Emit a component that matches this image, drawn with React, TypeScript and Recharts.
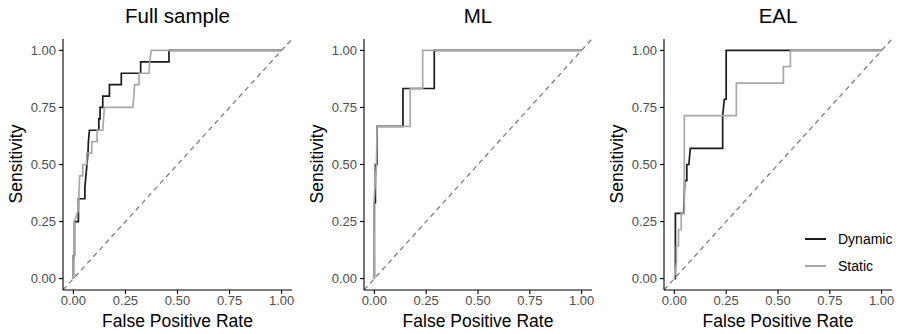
import * as React from "react"
import { LineChart, Line, XAxis, YAxis } from "recharts"

// ── Data: ROC vertices as [false positive rate, sensitivity] ──────────
const fullDynamic: [number, number][] = [
  [0, 0], [0, 0.1], [0.005, 0.1], [0.005, 0.25], [0.024, 0.25], [0.024, 0.35],
  [0.055, 0.35], [0.055, 0.4], [0.06, 0.45], [0.065, 0.5], [0.07, 0.55],
  [0.072, 0.6], [0.077, 0.65], [0.122, 0.65], [0.122, 0.7], [0.128, 0.7],
  [0.128, 0.75], [0.141, 0.75], [0.141, 0.8], [0.173, 0.8], [0.173, 0.85],
  [0.23, 0.85], [0.23, 0.9], [0.323, 0.9], [0.323, 0.95], [0.459, 0.95],
  [0.459, 1], [1, 1],
]
const fullStatic: [number, number][] = [
  [0, 0], [0.003, 0.1], [0.005, 0.25], [0.024, 0.3], [0.03, 0.45], [0.045, 0.45],
  [0.045, 0.5], [0.064, 0.5], [0.064, 0.55], [0.088, 0.55], [0.088, 0.6],
  [0.114, 0.6], [0.114, 0.65], [0.141, 0.65], [0.149, 0.75], [0.286, 0.75],
  [0.29, 0.8], [0.294, 0.85], [0.315, 0.85], [0.315, 0.9], [0.363, 0.9],
  [0.366, 0.95], [0.374, 1], [1, 1],
]
const mlDynamic: [number, number][] = [
  [0, 0], [0, 0.333], [0.005, 0.333], [0.005, 0.5], [0.013, 0.5], [0.013, 0.667],
  [0.138, 0.667], [0.138, 0.833], [0.289, 0.833], [0.289, 1], [1, 1],
]
const mlStatic: [number, number][] = [
  [0, 0], [-0.002, 0.333], [0.01, 0.5], [0.013, 0.667], [0.173, 0.667],
  [0.173, 0.833], [0.233, 0.833], [0.233, 1], [1, 1],
]
const ealDynamic: [number, number][] = [
  [0, 0], [0.005, 0], [0.005, 0.286], [0.045, 0.286], [0.05, 0.429],
  [0.06, 0.429], [0.06, 0.5], [0.07, 0.5], [0.077, 0.571], [0.233, 0.571],
  [0.233, 0.714], [0.241, 0.786], [0.25, 0.786], [0.25, 1], [1, 1],
]
const ealStatic: [number, number][] = [
  [0, 0], [0.01, 0.071], [0.01, 0.143], [0.02, 0.143], [0.02, 0.214],
  [0.033, 0.214], [0.033, 0.286], [0.048, 0.286], [0.048, 0.714],
  [0.299, 0.714], [0.299, 0.857], [0.526, 0.857], [0.526, 0.929],
  [0.56, 0.929], [0.56, 1], [1, 1],
]
const diagonal: [number, number][] = [[-0.05, -0.05], [1.05, 1.05]]

const panelTitles = ["Full sample", "ML", "EAL"]
const legendNames = ["Dynamic", "Static"]
const ticks = [0, 0.25, 0.5, 0.75, 1]

const FONT = "'Liberation Sans', Arial, Helvetica, sans-serif"
const DYN = "#1a1a1a"
const STAT = "#a8a8a8"

const toPts = (arr: [number, number][]) => arr.map(([x, y]) => ({ x, y }))

// ── Legend (overlay, so it doesn't steal plot space) ──────────────────
function RocLegend({ left, top }: { left: number; top: number }) {
  const colors = [DYN, STAT]
  return (
    <div style={{ position: "absolute", left, top, fontFamily: FONT, fontSize: 14, color: "#000" }}>
      {legendNames.map((name, i) => (
        <div key={name} style={{ display: "flex", alignItems: "center", height: 27 }}>
          <div style={{ width: 21, height: 2, background: colors[i], marginRight: 12 }} />
          <span>{name}</span>
        </div>
      ))}
    </div>
  )
}

// ── Panel ─────────────────────────────────────────────────────────────
function RocPanel({
  title, dyn, stat, left, width, showLegend,
}: {
  title: string
  dyn: [number, number][]
  stat: [number, number][]
  left: number
  width: number
  showLegend?: boolean
}) {
  const plotLeft = 63
  const plotRight = width - 9
  const center = (plotLeft + plotRight) / 2
  return (
    <div style={{ position: "absolute", left, top: 0, width, height: 334 }}>
      <div style={{
        position: "absolute", left: center - 100, width: 200, top: 4,
        textAlign: "center", fontFamily: FONT, fontSize: 20.5, color: "#000",
      }}>{title}</div>
      <div style={{
        position: "absolute", left: 16 - 60, top: 164 - 10, width: 120, height: 20,
        textAlign: "center", fontFamily: FONT, fontSize: 17.5, lineHeight: "20px",
        transform: "rotate(-90deg)", color: "#000",
      }}>Sensitivity</div>
      <div style={{
        position: "absolute", left: center - 100, width: 200, top: 311,
        textAlign: "center", fontFamily: FONT, fontSize: 17.5, color: "#000",
      }}>False Positive Rate</div>
      <LineChart width={width} height={334} margin={{ top: 39, right: 9, left: 0, bottom: 0 }}>
        <XAxis
          type="number" dataKey="x" domain={[-0.05, 1.05]} ticks={ticks}
          allowDataOverflow height={44}
          tickFormatter={(v: number) => v.toFixed(2)}
          stroke="#000" strokeWidth={1.1} tickSize={4} tickMargin={2}
          tick={{ fill: "#4d4d4d", fontSize: 13, fontFamily: FONT }}
        />
        <YAxis
          type="number" dataKey="y" domain={[-0.05, 1.05]} ticks={ticks}
          allowDataOverflow width={63}
          tickFormatter={(v: number) => v.toFixed(2)}
          stroke="#000" strokeWidth={1.1} tickSize={4} tickMargin={3}
          tick={{ fill: "#4d4d4d", fontSize: 13, fontFamily: FONT }}
        />
        <Line
          data={toPts(diagonal)} dataKey="y" type="linear" stroke="#7f7f7f"
          strokeWidth={1.3} strokeDasharray="5 4" dot={false}
          isAnimationActive={false}
        />
        <Line
          data={toPts(dyn)} dataKey="y" name="Dynamic" type="linear" stroke={DYN}
          strokeWidth={1.7} dot={false} isAnimationActive={false}
        />
        <Line
          data={toPts(stat)} dataKey="y" name="Static" type="linear" stroke={STAT}
          strokeWidth={1.7} dot={false} isAnimationActive={false}
        />
      </LineChart>
      {showLegend && <RocLegend left={204} top={225} />}
    </div>
  )
}

export default function App() {
  return (
    <div style={{ position: "absolute", left: 0, top: 0, width: 901, height: 334, background: "#fff" }}>
      <RocPanel title={panelTitles[0]} dyn={fullDynamic} stat={fullStatic} left={0} width={301} />
      <RocPanel title={panelTitles[1]} dyn={mlDynamic} stat={mlStatic} left={301} width={300} />
      <RocPanel title={panelTitles[2]} dyn={ealDynamic} stat={ealStatic} left={601} width={300} showLegend />
    </div>
  )
}
